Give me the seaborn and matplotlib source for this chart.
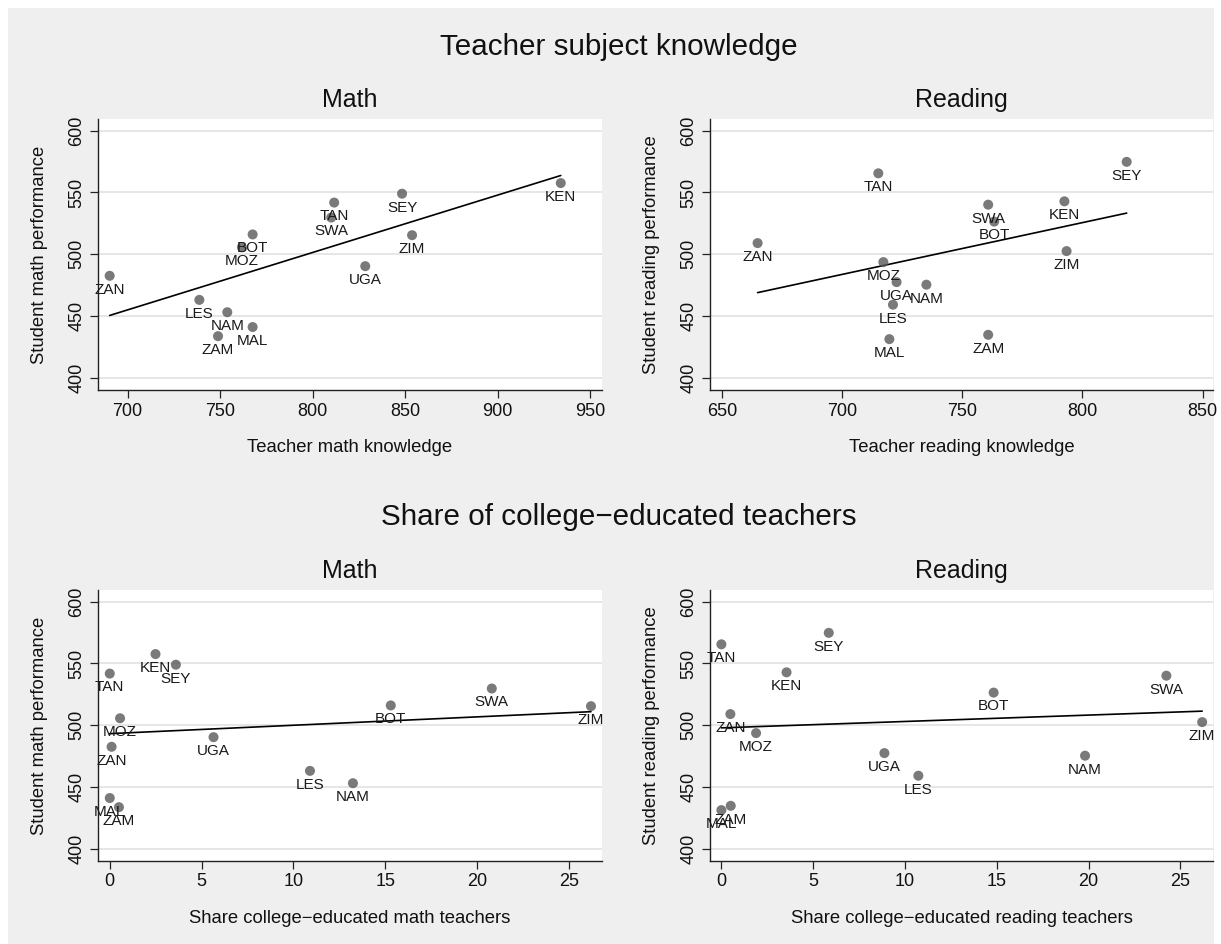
import matplotlib
matplotlib.use("Agg")
import matplotlib.pyplot as plt
from matplotlib.patches import Rectangle
import numpy as np
import pandas as pd
import seaborn as sns

# Data (SACMEQ country averages)
countries = ["BOT", "KEN", "LES", "MAL", "MOZ", "NAM", "SEY",
             "SWA", "TAN", "UGA", "ZAM", "ZAN", "ZIM"]

student_math = [516.0, 557.6, 463.0, 441.0, 505.6, 453.0, 549.0,
                529.7, 541.8, 490.3, 433.6, 482.5, 515.4]
student_read = [526.4, 542.8, 459.1, 431.2, 493.6, 475.3, 574.8,
                540.1, 565.5, 477.4, 434.7, 509.0, 502.5]

teacher_math = [767.6, 934.2, 738.8, 767.6, 761.8, 753.9, 848.4,
                810.1, 811.7, 828.5, 748.9, 690.3, 853.8]
teacher_read = [763.3, 792.5, 721.2, 719.7, 717.2, 735.1, 818.4,
                760.8, 715.1, 722.7, 760.8, 664.9, 793.4]

share_college_math = [15.3, 2.49, 10.9, 0.0, 0.56, 13.24, 3.6,
                      20.8, 0.0, 5.65, 0.5, 0.1, 26.2]
share_college_read = [14.83, 3.55, 10.73, 0.0, 1.89, 19.81, 5.85,
                      24.24, 0.0, 8.88, 0.51, 0.49, 26.19]

y_ticks = [400, 450, 500, 550, 600]

df = pd.DataFrame({
    "country": countries,
    "student_math": student_math,
    "student_read": student_read,
    "teacher_math": teacher_math,
    "teacher_read": teacher_read,
    "share_math": share_college_math,
    "share_read": share_college_read,
})

sns.set_theme(style="white")
plt.rcParams["font.family"] = ["Liberation Sans", "DejaVu Sans"]

W, H = 1221, 944
fig = plt.figure(figsize=(W / 100, H / 100), dpi=100, facecolor="white")
# grey graph region, leaving a thin white margin top / left / right
fig.patches.append(Rectangle((8 / W, 0), (1214 - 8) / W, (H - 8) / H,
                             transform=fig.transFigure, facecolor="#efefef",
                             edgecolor="none", zorder=-5))


def px_axes(left, top, right, bottom):
    return fig.add_axes([left / W, 1 - bottom / H, (right - left) / W, (bottom - top) / H])


panels = [
    # (x col, y col, title, xlabel, ylabel, xticks, xlim, box)
    ("teacher_math", "student_math", "Math", "Teacher math knowledge",
     "Student math performance", [700, 750, 800, 850, 900, 950], (684, 956.5),
     (98, 119, 602, 390)),
    ("teacher_read", "student_read", "Reading", "Teacher reading knowledge",
     "Student reading performance", [650, 700, 750, 800, 850], (645.1, 854.3),
     (710, 119, 1213, 390)),
    ("share_math", "student_math", "Math", "Share college\u2212educated math teachers",
     "Student math performance", [0, 5, 10, 15, 20, 25], (-0.64, 26.8),
     (98, 590, 602, 861)),
    ("share_read", "student_read", "Reading", "Share college\u2212educated reading teachers",
     "Student reading performance", [0, 5, 10, 15, 20, 25], (-0.62, 26.78),
     (710, 590, 1213, 861)),
]

for xcol, ycol, title, xlabel, ylabel, xticks, xlim, box in panels:
    ax = px_axes(*box)
    ax.set_facecolor("white")
    sns.regplot(data=df, x=xcol, y=ycol, ax=ax, ci=None, truncate=True,
                scatter_kws=dict(s=52, color="#595959", edgecolor="none", zorder=3),
                line_kws=dict(color="black", lw=1.2, zorder=2))
    for _, r in df.iterrows():
        ax.annotate(r["country"], (r[xcol], r[ycol]), xytext=(0, -10),
                    textcoords="offset points", ha="center", va="center",
                    fontsize=11, color="#1a1a1a", zorder=4)
    ax.set_xlim(*xlim)
    ax.set_ylim(390, 609.5)
    ax.set_xticks(xticks)
    ax.set_yticks(y_ticks)
    ax.yaxis.grid(True, color="#e4e4e4", lw=1.3)
    ax.set_axisbelow(True)
    for s in ["top", "right"]:
        ax.spines[s].set_visible(False)
    for s in ["left", "bottom"]:
        ax.spines[s].set_color("#222222")
        ax.spines[s].set_linewidth(1.0)
    ax.tick_params(axis="both", direction="out", length=6, width=0.9,
                   color="#222222", labelsize=13, labelcolor="#111111",
                   left=True, bottom=True, pad=3)
    for lab in ax.get_yticklabels():
        lab.set_rotation(90)
        lab.set_va("center")
    ax.set_xlabel(xlabel, fontsize=13.3, color="#111111", labelpad=14)
    ax.set_ylabel(ylabel, fontsize=13.3, color="#111111", labelpad=15)
    ax.text(0.5, 1 + 19 / 271, title, transform=ax.transAxes, ha="center",
            va="center", fontsize=18, color="#111111")

fig.text(619 / W, 1 - 47 / H, "Teacher subject knowledge", ha="center",
         va="center", fontsize=21.3, color="#111111")
fig.text(619 / W, 1 - 517 / H, "Share of college\u2212educated teachers", ha="center",
         va="center", fontsize=21.3, color="#111111")

fig.savefig("out.png", dpi=100, facecolor=fig.get_facecolor())
